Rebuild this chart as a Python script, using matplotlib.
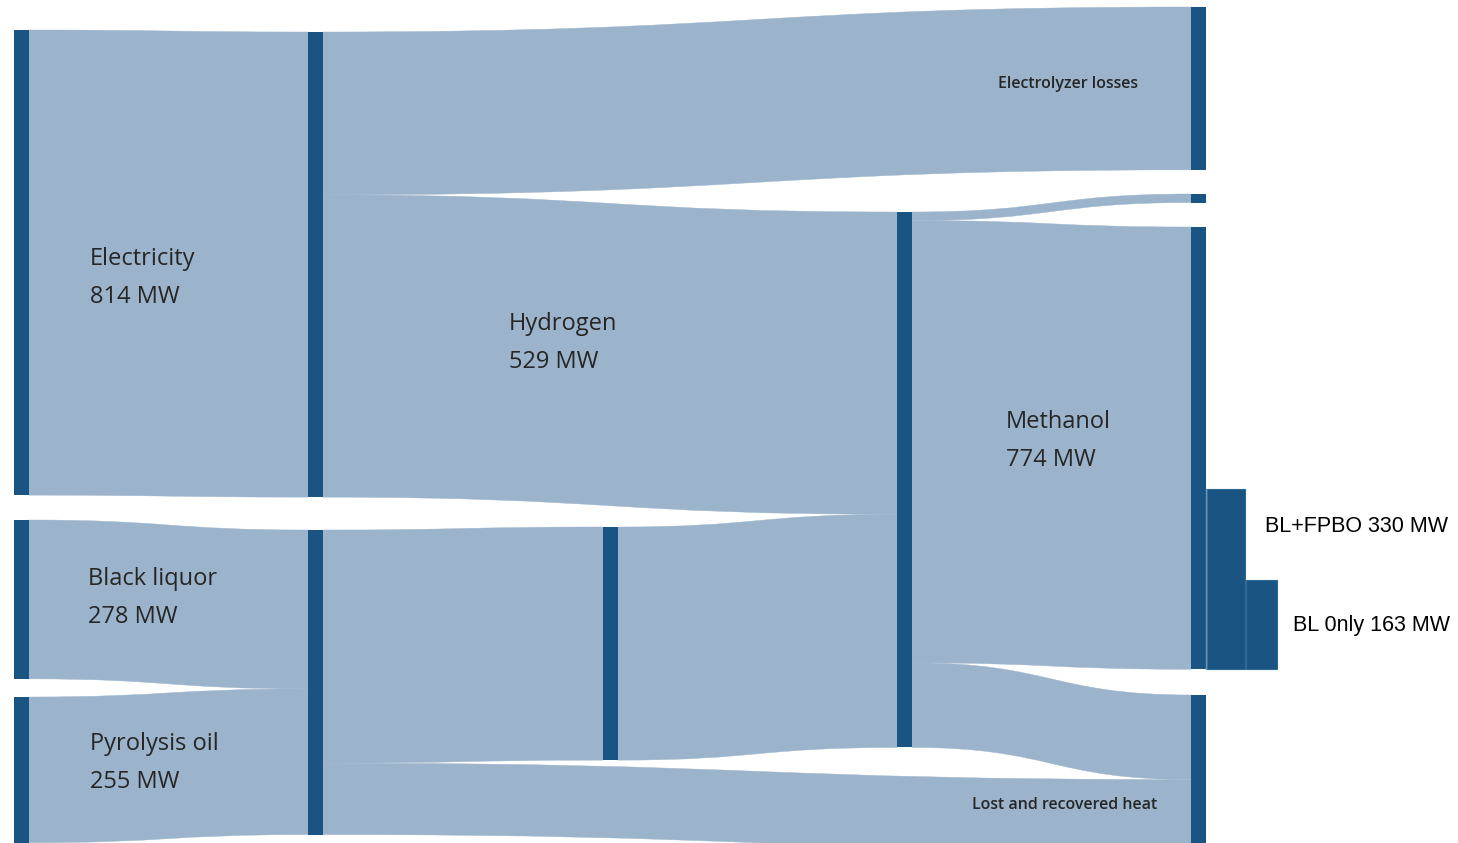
import matplotlib.pyplot as plt
from matplotlib.patches import Rectangle, PathPatch
from matplotlib.path import Path

# Energy flows in MW
node_names = ["Electricity", "Black liquor", "Pyrolysis oil", "Power", "Feedstock",
              "Gasification", "Methanol synthesis", "Electrolyzer losses", "Other",
              "Methanol", "Lost and recovered heat"]
node_cols = [0, 0, 0, 1, 1, 2, 3, 4, 4, 4, 4]
node_tops = [30, 520, 697, 32, 530, 527, 212, 7, 194, 227, 695]

flow_src = ["Electricity", "Black liquor", "Pyrolysis oil", "Power", "Power",
            "Feedstock", "Feedstock", "Gasification", "Methanol synthesis",
            "Methanol synthesis", "Methanol synthesis"]
flow_dst = ["Power", "Feedstock", "Feedstock", "Electrolyzer losses", "Methanol synthesis",
            "Gasification", "Lost and recovered heat", "Methanol synthesis", "Other",
            "Methanol", "Lost and recovered heat"]
flow_mw = [814, 278, 255, 285, 529, 408, 125, 408, 15, 774, 148]

# order of incoming flows at Lost heat: from methanol synthesis first
in_order = {"Lost and recovered heat": [10, 6]}

# methanol production cases
case_labels = ["BL+FPBO 330 MW", "BL 0nly 163 MW"]
case_mw = [330, 163]

PX_PER_MW = 1 / 1.75
BAR_PX_PER_MW = 0.545
col_x = [14, 308, 603, 897, 1191]
node_w = 15

node_dark = "#1a5482"
flow_light = "#9bb4cb"
text_col = "#262626"

fig = plt.figure(figsize=(14.58, 8.43), dpi=100)
ax = fig.add_axes([0, 0, 1, 1])
ax.set_xlim(0, 1458)
ax.set_ylim(843, 0)
ax.axis("off")

idx = {n: i for i, n in enumerate(node_names)}
out_sum = [0.0] * len(node_names)
in_sum = [0.0] * len(node_names)
for s, d, v in zip(flow_src, flow_dst, flow_mw):
    out_sum[idx[s]] += v
    in_sum[idx[d]] += v

# stacking offsets
src_off = {}
acc = [0.0] * len(node_names)
for k, (s, v) in enumerate(zip(flow_src, flow_mw)):
    src_off[k] = acc[idx[s]]
    acc[idx[s]] += v
dst_off = {}
acc = [0.0] * len(node_names)
order = list(range(len(flow_mw)))
for name, lst in in_order.items():
    order = [k for k in order if flow_dst[k] != name] + lst
for k in order:
    d = flow_dst[k]
    dst_off[k] = acc[idx[d]]
    acc[idx[d]] += flow_mw[k]


def ribbon(x0, t0, b0, x1, t1, b1):
    xm = (x0 + x1) / 2
    verts = [(x0, t0), (xm, t0), (xm, t1), (x1, t1),
             (x1, b1),
             (xm, b1), (xm, b0), (x0, b0),
             (x0, t0)]
    codes = [Path.MOVETO, Path.CURVE4, Path.CURVE4, Path.CURVE4,
             Path.LINETO,
             Path.CURVE4, Path.CURVE4, Path.CURVE4,
             Path.CLOSEPOLY]
    return PathPatch(Path(verts, codes), facecolor=flow_light, edgecolor=flow_light,
                     lw=0.3, zorder=1)


for k, (s, d, v) in enumerate(zip(flow_src, flow_dst, flow_mw)):
    si, di = idx[s], idx[d]
    x0 = col_x[node_cols[si]] + node_w
    x1 = col_x[node_cols[di]]
    t0 = node_tops[si] + src_off[k] * PX_PER_MW
    t1 = node_tops[di] + dst_off[k] * PX_PER_MW
    h = v * PX_PER_MW
    ax.add_patch(ribbon(x0, t0, t0 + h, x1, t1, t1 + h))

for i, n in enumerate(node_names):
    h = max(in_sum[i], out_sum[i]) * PX_PER_MW
    ax.add_patch(Rectangle((col_x[node_cols[i]], node_tops[i]), node_w, h,
                           facecolor=node_dark, edgecolor="none", zorder=3))

# case bars next to Methanol node
meth_bottom = node_tops[idx["Methanol"]] + in_sum[idx["Methanol"]] * PX_PER_MW
bar_x = [1207, 1246]
bar_w = [38, 31]
for x, w, v in zip(bar_x, bar_w, case_mw):
    ax.bar(x, -v * BAR_PX_PER_MW, width=w, bottom=meth_bottom, align="edge",
           color=node_dark, edgecolor="#2f6a96", lw=0.8, zorder=3)
ax.plot([1206.5, 1206.5], [meth_bottom - case_mw[0] * BAR_PX_PER_MW, meth_bottom],
        color="#6f93b3", lw=1, zorder=4)

ax.text(1265, 527, case_labels[0], fontsize=15.5, family="Liberation Sans",
        color="black", va="center", ha="left")
ax.text(1293, 626, case_labels[1], fontsize=15.5, family="Liberation Sans",
        color="black", va="center", ha="left")

labels = [("Electricity", 814, 90, 259), ("Hydrogen", 529, 509, 324),
          ("Methanol", 774, 1006, 422), ("Black liquor", 278, 88, 579),
          ("Pyrolysis oil", 255, 90, 744)]
for name, v, x, y in labels:
    ax.text(x, y, name, fontsize=17, family="Open Sans", color=text_col,
            va="center", ha="left")
    ax.text(x, y + 38, f"{v} MW", fontsize=17, family="Open Sans", color=text_col,
            va="center", ha="left")

ax.text(1068, 84, "Electrolyzer losses", fontsize=11.5, family="Open Sans",
        fontweight="semibold", color=text_col, va="center", ha="center")
ax.text(1065, 805, "Lost and recovered heat", fontsize=11.5, family="Open Sans",
        fontweight="semibold", color=text_col, va="center", ha="center")

fig.savefig("out.png", dpi=100)
